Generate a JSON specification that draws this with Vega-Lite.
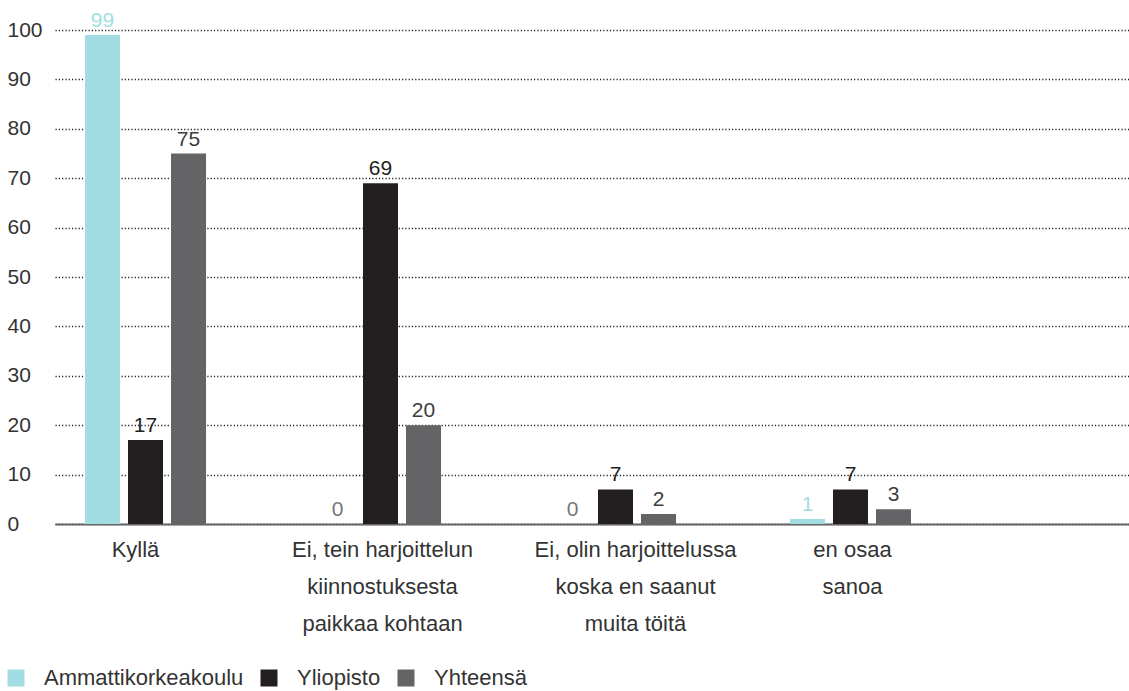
{
  "$schema": "https://vega.github.io/schema/vega-lite/v6.json",
  "width": 1074,
  "height": 494,
  "autosize": {"type": "none"},
  "padding": {"left": 55, "top": 30, "right": 0, "bottom": 167},
  "background": "white",
  "config": {
    "view": {"stroke": null},
    "font": "Liberation Sans",
    "text": {"font": "Liberation Sans"}
  },
  "data": {
    "values": [
      {"category": "Kyllä", "series": "Ammattikorkeakoulu", "value": 99},
      {"category": "Kyllä", "series": "Yliopisto", "value": 17},
      {"category": "Kyllä", "series": "Yhteensä", "value": 75},
      {"category": "Ei, tein harjoittelun kiinnostuksesta paikkaa kohtaan", "series": "Ammattikorkeakoulu", "value": 0},
      {"category": "Ei, tein harjoittelun kiinnostuksesta paikkaa kohtaan", "series": "Yliopisto", "value": 69},
      {"category": "Ei, tein harjoittelun kiinnostuksesta paikkaa kohtaan", "series": "Yhteensä", "value": 20},
      {"category": "Ei, olin harjoittelussa koska en saanut muita töitä", "series": "Ammattikorkeakoulu", "value": 0},
      {"category": "Ei, olin harjoittelussa koska en saanut muita töitä", "series": "Yliopisto", "value": 7},
      {"category": "Ei, olin harjoittelussa koska en saanut muita töitä", "series": "Yhteensä", "value": 2},
      {"category": "en osaa sanoa", "series": "Ammattikorkeakoulu", "value": 1},
      {"category": "en osaa sanoa", "series": "Yliopisto", "value": 7},
      {"category": "en osaa sanoa", "series": "Yhteensä", "value": 3}
    ]
  },
  "encoding": {
    "x": {
      "field": "category",
      "type": "nominal",
      "sort": null,
      "scale": {"paddingInner": 0.485, "paddingOuter": 0.5277, "align": 0.121},
      "axis": {
        "title": null,
        "labelAngle": 0,
        "labelFontSize": 22,
        "labelColor": "#333333",
        "labelFont": "Liberation Sans",
        "labelPadding": 15,
        "labelLineHeight": 37,
        "labelBaseline": "top",
        "labelOffset": {"expr": "datum.value == 'Kyllä' ? -10 : (datum.value == 'Ei, olin harjoittelussa koska en saanut muita töitä' ? 20 : 2)"},
        "labelExpr": "datum.value == 'Ei, tein harjoittelun kiinnostuksesta paikkaa kohtaan' ? ['Ei, tein harjoittelun', 'kiinnostuksesta', 'paikkaa kohtaan'] : (datum.value == 'Ei, olin harjoittelussa koska en saanut muita töitä' ? ['Ei, olin harjoittelussa', 'koska en saanut', 'muita töitä'] : (datum.value == 'en osaa sanoa' ? ['en osaa', 'sanoa'] : datum.value))",
        "ticks": false,
        "domainColor": "#666666",
        "domainWidth": 2,
        "labelLimit": 0
      }
    },
    "xOffset": {
      "field": "series",
      "type": "nominal",
      "sort": ["Ammattikorkeakoulu", "Yliopisto", "Yhteensä"],
      "scale": {"paddingInner": 0.186, "paddingOuter": 0}
    },
    "y": {
      "field": "value",
      "type": "quantitative",
      "scale": {"domain": [0, 100], "nice": false},
      "axis": {
        "title": null,
        "values": [0, 10, 20, 30, 40, 50, 60, 70, 80, 90, 100],
        "domain": false,
        "ticks": false,
        "tickSize": 0,
        "labelAlign": "left",
        "labelBaseline": "middle",
        "labelPadding": 48,
        "labelFontSize": 21,
        "labelColor": "#333333",
        "labelFont": "Liberation Sans",
        "gridColor": "#222222",
        "gridDash": [1.2, 2.1],
        "gridWidth": 1.5
      }
    }
  },
  "layer": [
    {
      "mark": {"type": "bar"},
      "encoding": {
        "color": {
          "field": "series",
          "type": "nominal",
          "sort": ["Ammattikorkeakoulu", "Yliopisto", "Yhteensä"],
          "scale": {"domain": ["Ammattikorkeakoulu", "Yliopisto", "Yhteensä"], "range": ["#a3dde4", "#231f20", "#646466"]},
          "legend": {
            "title": null,
            "orient": "none",
            "direction": "horizontal",
            "legendX": -50,
            "legendY": 637,
            "padding": 0,
            "symbolType": "square",
            "symbolSize": 289,
            "symbolStrokeWidth": 0,
            "symbolOpacity": 1,
            "labelFontSize": 22,
            "labelColor": "#333333",
            "labelFont": "Liberation Sans",
            "labelOffset": 17,
            "columnPadding": 14,
            "labelLimit": 0
          }
        }
      }
    },
    {
      "mark": {"type": "text", "baseline": "bottom", "dy": -4, "fontSize": 21, "font": "Liberation Sans"},
      "encoding": {
        "text": {"field": "value", "type": "quantitative"},
        "color": {
          "condition": {"test": "datum.value === 0", "value": "#777777"},
          "field": "series",
          "type": "nominal",
          "scale": {"domain": ["Ammattikorkeakoulu", "Yliopisto", "Yhteensä"], "range": ["#a3dde4", "#231f20", "#3d3d3d"]},
          "legend": null
        }
      }
    }
  ],
  "resolve": {"scale": {"color": "independent"}}
}
